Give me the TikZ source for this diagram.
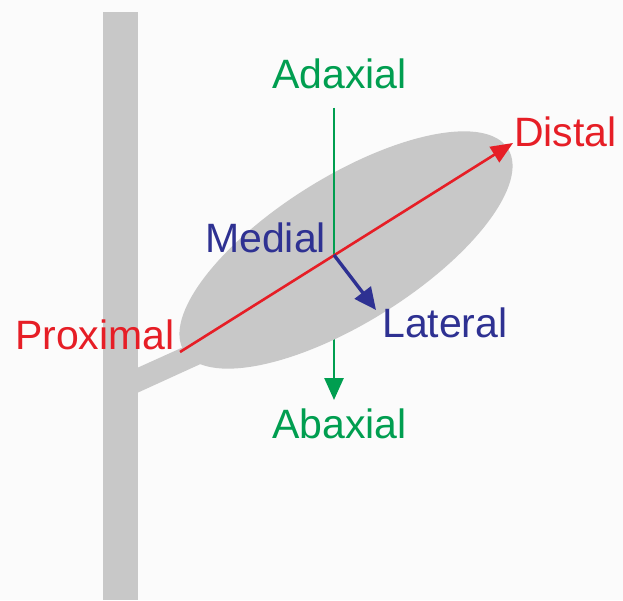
\documentclass[tikz,border=0pt]{standalone}
\usepackage{fontspec}
\setmainfont{Liberation Sans}
\usetikzlibrary{arrows.meta,positioning}
\definecolor{AxRed}{RGB}{230,30,38}
\definecolor{AxGreen}{RGB}{0,158,80}
\definecolor{AxBlue}{RGB}{46,49,146}
\definecolor{LeafGray}{RGB}{200,200,200}
\definecolor{BgGray}{RGB}{251,251,251}
\tikzset{
  lbl/.style={inner sep=0pt,anchor=base west,font=\fontsize{41}{48}\selectfont},
  pdaxis/.style={-{Triangle[length=22pt,width=18pt]},line width=2.6pt,AxRed},
  abaxis/.style={-{Triangle[length=22pt,width=19pt]},line width=2.6pt,AxGreen},
  mlaxis/.style={-{Triangle[length=22pt,width=20pt]},line width=3.4pt,AxBlue},
}

\begin{document}
\begin{tikzpicture}[x=1pt,y=1pt]
  \fill[BgGray] (0,0) rectangle (623,600);
  \useasboundingbox (0,0) rectangle (623,600);
  % stem and petiole
  \fill[LeafGray] (103,0) rectangle (138,588);
  \fill[LeafGray] (137,232) -- (137,207) -- (240,254) -- (230,274) -- cycle;
  \coordinate (mid) at (334,345);
  \coordinate (prox) at (180,248);
  \coordinate (dist) at (513,457);
  \coordinate (adax) at (334,492);
  \coordinate (abax) at (334,200);
  \coordinate (lat) at (376,290);
  % lower half of the green axis runs under the blade
  \draw[abaxis] (adax) -- (abax);
  \fill[LeafGray,rotate around={32:(346,350)}] (346,350) ellipse [x radius=191,y radius=73];
  \draw[AxGreen,line width=2.6pt] (adax) -- (mid);
  \draw[pdaxis] (prox) -- (dist);
  \draw[mlaxis] (mid) -- (lat);
  % labels
  \node[lbl,text=AxGreen] (adaxial) at (272,511) {Adaxial};
  \node[lbl,text=AxGreen] (abaxial) at (272,162) {Abaxial};
  \node[lbl,text=AxRed] (distal) at (514,453) {Distal};
  \node[lbl,text=AxRed] (proximal) at (15,250) {Proximal};
  \node[lbl,text=AxBlue] (medial) at (205,347) {Medial};
  \node[lbl,text=AxBlue] (lateral) at (382,262) {Lateral};
\end{tikzpicture}
\end{document}
